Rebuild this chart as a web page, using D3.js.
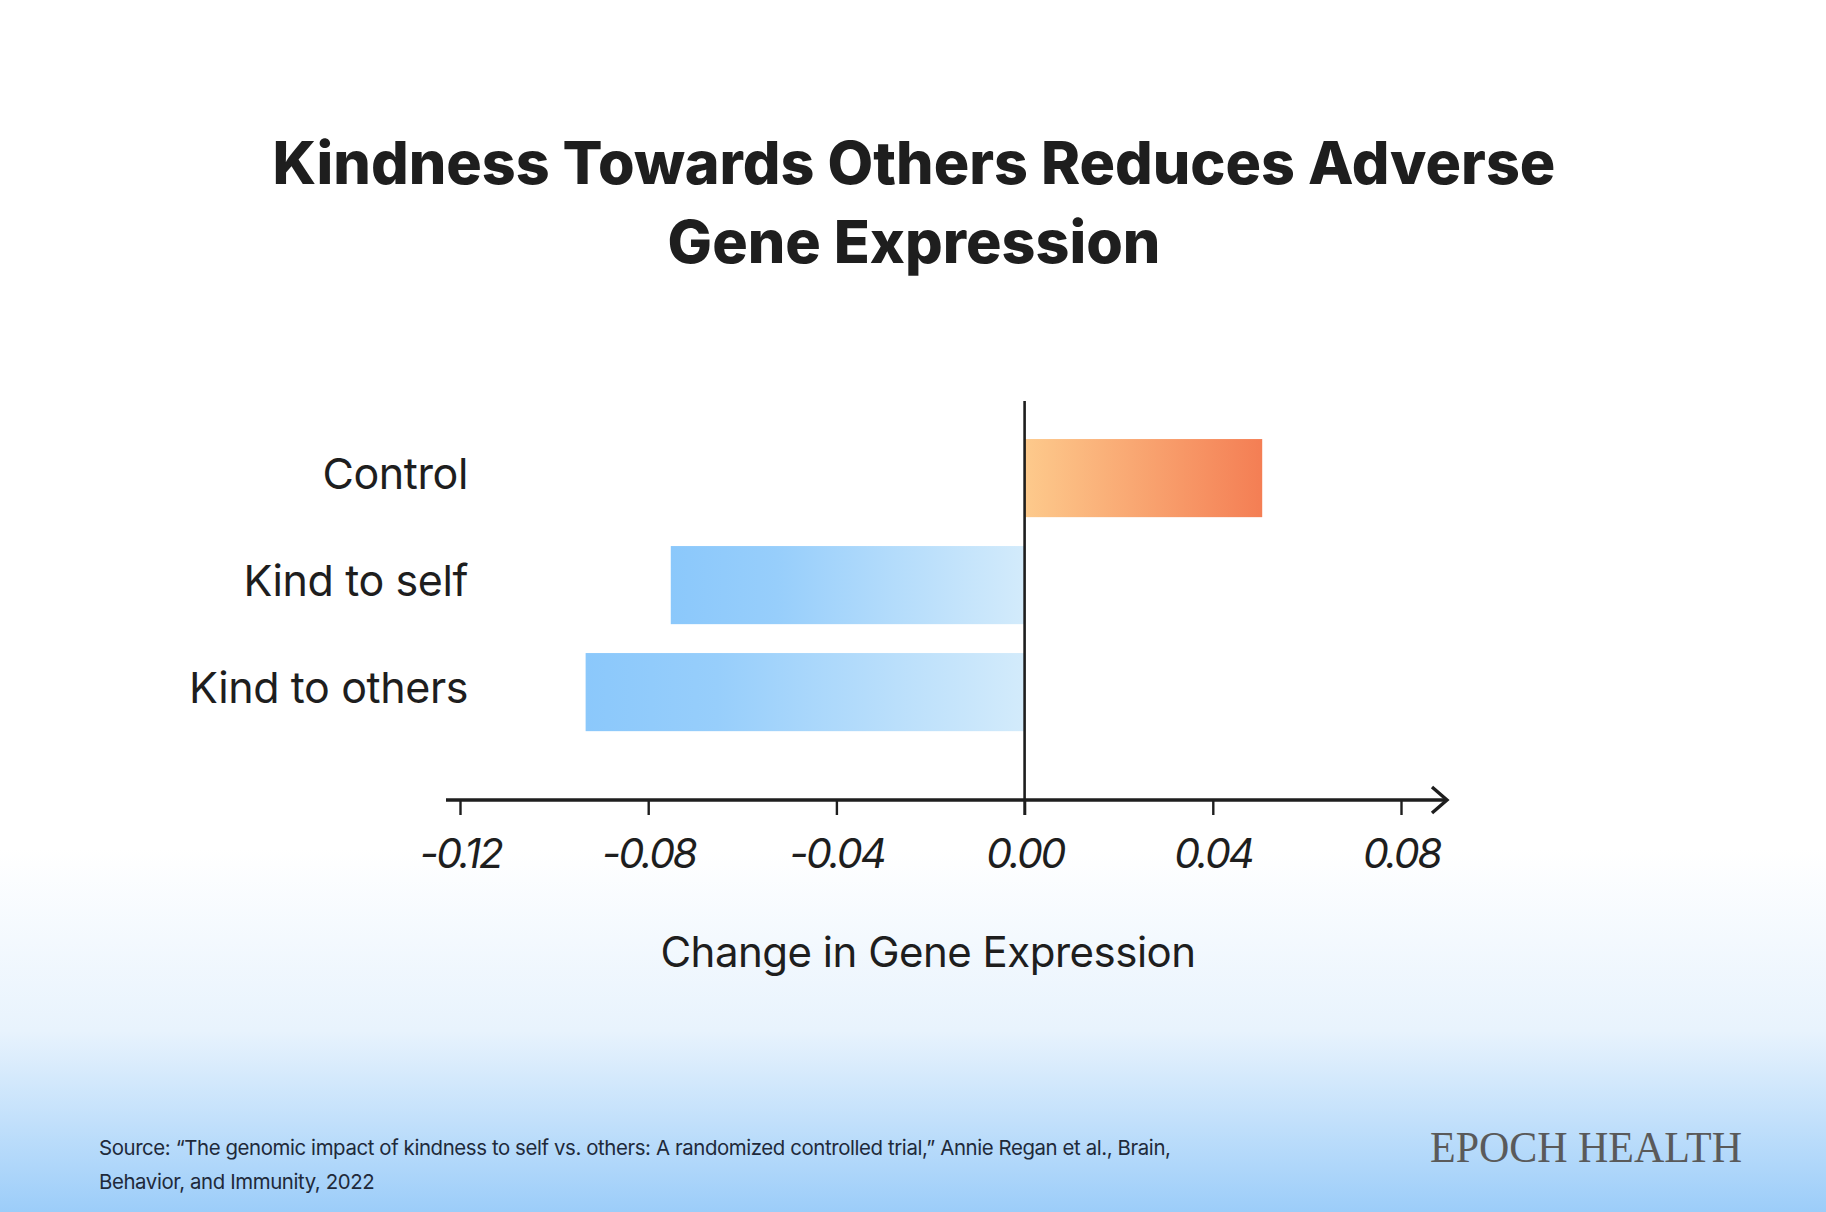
<!DOCTYPE html>
<html>
<head>
<meta charset="utf-8">
<script src="https://cdn.jsdelivr.net/npm/d3@7"></script>
<style>
  html, body { margin: 0; padding: 0; background: #fff; }
  svg { display: block; }
</style>
</head>
<body>
<div id="chart"></div>
<script>
var categories = ["Control", "Kind to self", "Kind to others"];
var values = [0.0505, -0.0752, -0.0933];
var tickValues = [-0.12, -0.08, -0.04, 0.00, 0.04, 0.08];
var tickLabels = ["-0.12", "-0.08", "-0.04", "0.00", "0.04", "0.08"];

function init() {
    var w = 1826;
    var h = 1212;
    var svg = d3.select("#chart").append("svg")
                .attr("width", w)
                .attr("height", h);

    var defs = svg.append("defs");

    // page background: white fading to light blue at the bottom
    var bg = defs.append("linearGradient")
        .attr("id", "bg").attr("x1", 0).attr("y1", 0).attr("x2", 0).attr("y2", 1);
    bg.append("stop").attr("offset", "0.70").attr("stop-color", "#ffffff");
    bg.append("stop").attr("offset", "0.85").attr("stop-color", "#e8f3fd");
    bg.append("stop").attr("offset", "1").attr("stop-color", "#9ccdf9");

    var pos = defs.append("linearGradient")
        .attr("id", "posGrad").attr("x1", 0).attr("y1", 0).attr("x2", 1).attr("y2", 0);
    pos.append("stop").attr("offset", "0").attr("stop-color", "#fdca8c");
    pos.append("stop").attr("offset", "1").attr("stop-color", "#f47e54");

    var neg = defs.append("linearGradient")
        .attr("id", "negGrad").attr("x1", 0).attr("y1", 0).attr("x2", 1).attr("y2", 0);
    neg.append("stop").attr("offset", "0").attr("stop-color", "#8bc8fb");
    neg.append("stop").attr("offset", "0.3").attr("stop-color", "#97cefb");
    neg.append("stop").attr("offset", "1").attr("stop-color", "#d3ebfb");

    svg.append("rect").attr("width", w).attr("height", h).attr("fill", "url(#bg)");

    // title
    var title = svg.append("text")
        .attr("text-anchor", "middle")
        .style("font-family", "Inter, 'Open Sans', sans-serif")
        .style("font-weight", 800)
        .style("font-size", "59.2px")
        .style("letter-spacing", "0px")
        .attr("fill", "#1e1e1e");
    title.append("tspan").attr("x", w / 2 + 1).attr("y", 184).text("Kindness Towards Others Reduces Adverse");
    title.append("tspan").attr("x", w / 2 + 1).attr("y", 263).text("Gene Expression");

    var xScale = d3.scaleLinear()
        .domain([-0.12, 0.08])
        .range([460, 1401]);

    var yScale = d3.scaleBand()
        .domain(categories)
        .range([424.6, 745.6])
        .paddingInner(0.27)
        .paddingOuter(0.135);

    var axisY = 800;
    var font = "Inter, 'Open Sans', sans-serif";

    // bars
    svg.selectAll("rect.bar")
        .data(categories)
        .enter()
        .append("rect")
        .attr("class", "bar")
        .attr("x", (d, i) => Math.min(xScale(0), xScale(values[i])))
        .attr("y", d => yScale(d))
        .attr("width", (d, i) => Math.abs(xScale(values[i]) - xScale(0)))
        .attr("height", yScale.bandwidth())
        .attr("fill", (d, i) => values[i] >= 0 ? "url(#posGrad)" : "url(#negGrad)");

    // category labels
    svg.selectAll("text.cat")
        .data(categories)
        .enter()
        .append("text")
        .attr("class", "cat")
        .attr("x", 468)
        .attr("y", d => yScale(d) + yScale.bandwidth() / 2 - 4)
        .attr("dy", "0.35em")
        .attr("text-anchor", "end")
        .style("font-family", font)
        .style("font-size", "43px")
        .style("letter-spacing", "-0.4px")
        .attr("fill", "#1e1e1e")
        .text(d => d);

    // zero line
    svg.append("line")
        .attr("x1", xScale(0)).attr("x2", xScale(0))
        .attr("y1", 401).attr("y2", axisY + 15)
        .attr("stroke", "#1e1e1e").attr("stroke-width", 2.6);

    // x axis with ticks
    var xAxis = d3.axisBottom(xScale)
        .tickValues(tickValues)
        .tickSize(15)
        .tickFormat((d, i) => tickLabels[i]);

    var gx = svg.append("g")
        .attr("transform", `translate(0,${axisY})`)
        .call(xAxis);
    gx.select(".domain").remove();
    gx.selectAll(".tick line").attr("stroke", "#1e1e1e").attr("stroke-width", 2.4);
    gx.selectAll(".tick text")
        .attr("y", 0)
        .attr("dy", 0)
        .attr("transform", "translate(0,68)")
        .style("font-family", font)
        .style("font-style", "italic")
        .style("font-size", "41px")
        .style("letter-spacing", "-2.4px")
        .attr("fill", "#1e1e1e");

    // axis line with arrow
    svg.append("line")
        .attr("x1", 446).attr("x2", 1446)
        .attr("y1", axisY).attr("y2", axisY)
        .attr("stroke", "#1e1e1e").attr("stroke-width", 3.4);
    svg.append("path")
        .attr("d", `M${1432},${axisY - 13} L${1447},${axisY} L${1432},${axisY + 13}`)
        .attr("fill", "none")
        .attr("stroke", "#1e1e1e").attr("stroke-width", 3.4);

    // axis title
    svg.append("text")
        .attr("x", 928)
        .attr("y", 967)
        .attr("text-anchor", "middle")
        .style("font-family", font)
        .style("font-size", "42px")
        .style("letter-spacing", "-0.5px")
        .attr("fill", "#1e1e1e")
        .text("Change in Gene Expression");

    // source
    var src = svg.append("text")
        .style("font-family", font)
        .style("font-size", "20.4px")
        .style("letter-spacing", "-0.4px")
        .attr("fill", "#1f2a3a");
    src.append("tspan").attr("x", 99).attr("y", 1155)
        .text("Source: \u201cThe genomic impact of kindness to self vs. others: A randomized controlled trial,\u201d Annie Regan et al., Brain,");
    src.append("tspan").attr("x", 99).attr("y", 1189)
        .text("Behavior, and Immunity, 2022");

    // logo
    svg.append("text")
        .attr("x", 1430)
        .attr("y", 1162)
        .attr("textLength", 312)
        .attr("lengthAdjust", "spacingAndGlyphs")
        .style("font-family", "'Liberation Serif', serif")
        .style("font-size", "44px")
        .attr("fill", "#5a5a5a")
        .text("EPOCH HEALTH");
}

window.onload = init;
</script>
</body>
</html>
